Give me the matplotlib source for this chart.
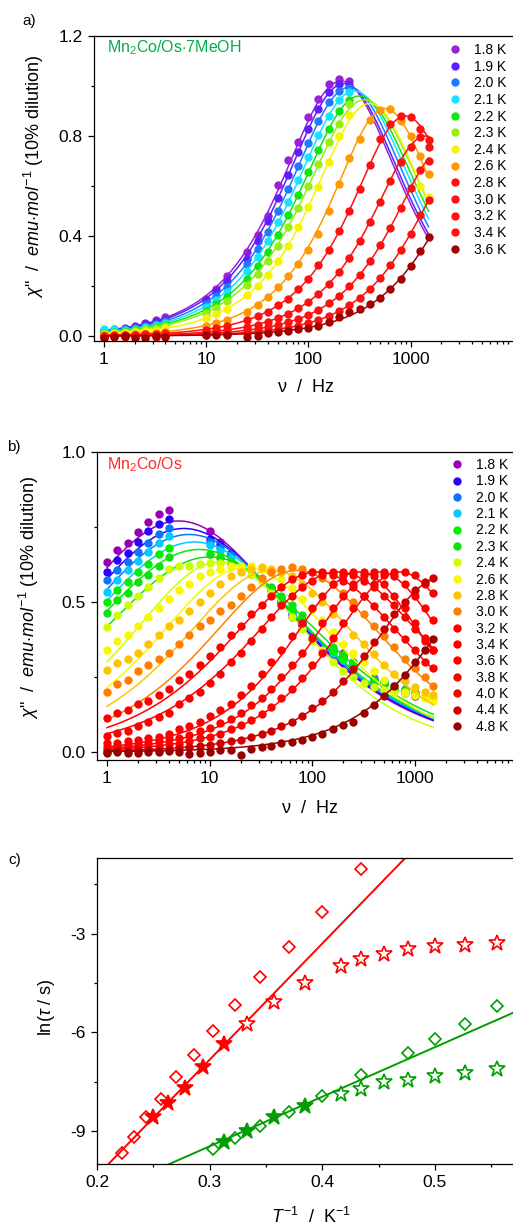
import numpy as np
import matplotlib
matplotlib.use("Agg")
import matplotlib.pyplot as plt
from matplotlib.lines import Line2D
from matplotlib.ticker import FixedLocator, MultipleLocator, NullFormatter

plt.rcParams['font.family'] = ['Liberation Sans', 'DejaVu Sans']
plt.rcParams['mathtext.fontset'] = 'custom'
plt.rcParams['mathtext.rm'] = 'Liberation Sans'
plt.rcParams['mathtext.it'] = 'Liberation Sans:italic'
plt.rcParams['axes.linewidth'] = 0.9

nan = np.nan

# ---------------- a) Mn2Co/Os.7MeOH, chi'' vs frequency ----------------
freq_a = [1, 1.25, 1.6, 2, 2.5, 3.2, 4, 10, 12.5, 16, 25, 32, 40, 50, 63, 80, 100,
          125, 160, 200, 250, 320, 400, 500, 630, 800, 1000, 1250, 1500]
labels_a = ["1.8 K", "1.9 K", "2.0 K", "2.1 K", "2.2 K", "2.3 K", "2.4 K",
            "2.6 K", "2.8 K", "3.0 K", "3.2 K", "3.4 K", "3.6 K"]
colors_a = ['#9A21D6', '#5A1EFF', '#1E7BFF', '#15E3FF', '#12E612', '#99EE11', '#F5F500',
            '#FF9900', '#FF1010', '#FF1010', '#FF1010', '#FF1010', '#A30000']

a_18 = [0.022, 0.030, 0.033, 0.041, 0.052, 0.064, 0.076, 0.150, 0.190, 0.240, 0.337, 0.404, 0.480,
        0.604, 0.704, 0.777, 0.876, 0.948, 1.008, 1.030, 1.020, nan, nan, nan, nan, nan, nan, nan, nan]
a_19 = [0.018, 0.024, 0.030, 0.036, 0.047, 0.058, 0.066, 0.140, 0.180, 0.222, 0.310, 0.380, 0.462,
        0.552, 0.645, 0.738, 0.830, 0.910, 0.975, 1.010, 1.005, nan, nan, nan, nan, nan, nan, nan, nan]
a_20 = [0.025, 0.025, 0.028, 0.034, 0.040, 0.048, 0.060, 0.128, 0.160, 0.198, 0.288, 0.350, 0.418,
        0.502, 0.588, 0.680, 0.772, 0.860, 0.935, 0.980, 0.992, nan, nan, nan, nan, nan, nan, nan, nan]
a_21 = [0.030, 0.028, 0.025, 0.030, 0.036, 0.044, 0.052, 0.115, 0.145, 0.178, 0.260, 0.318, 0.380,
        0.455, 0.535, 0.625, 0.715, 0.805, 0.882, 0.945, 0.975, nan, nan, nan, nan, nan, nan, nan, nan]
a_22 = [0.012, 0.016, 0.020, 0.025, 0.030, 0.038, 0.046, 0.102, 0.128, 0.155, 0.230, 0.280, 0.338,
        0.405, 0.484, 0.566, 0.655, 0.745, 0.830, 0.900, 0.945, nan, nan, nan, nan, nan, nan, nan, nan]
a_23 = [0.010, 0.014, 0.018, 0.022, 0.027, 0.034, 0.042, 0.092, 0.112, 0.140, 0.205, 0.250, 0.300,
        0.362, 0.435, 0.512, 0.600, 0.690, 0.775, 0.850, 0.928, nan, nan, nan, nan, nan, nan, nan, nan]
a_24 = [0.009, 0.011, 0.014, 0.017, 0.021, 0.026, 0.032, 0.073, 0.089, 0.110, 0.165, 0.202, 0.246,
        0.299, 0.361, 0.435, 0.515, 0.595, 0.698, 0.800, 0.884, nan, nan, nan, nan, nan, nan, 0.600, 0.557]
a_26 = [0.004, 0.005, 0.006, 0.008, 0.010, 0.013, 0.016, 0.040, 0.052, 0.066, 0.097, 0.125, 0.155,
        0.195, 0.240, 0.290, 0.345, 0.410, 0.500, 0.608, 0.712, 0.790, 0.864, 0.904, 0.908, 0.860, 0.800, 0.720, 0.650]
a_28 = [0.002, 0.004, 0.004, 0.006, 0.007, 0.009, 0.011, 0.026, 0.034, 0.040, 0.064, 0.080, 0.098,
        0.124, 0.150, 0.188, 0.230, 0.285, 0.345, 0.420, 0.500, 0.590, 0.685, 0.790, 0.850, 0.880, 0.875, 0.830, 0.755]
a_30 = [0.001, 0.002, 0.003, 0.003, 0.004, 0.005, 0.006, 0.016, 0.019, 0.025, 0.038, 0.046, 0.058,
        0.072, 0.090, 0.111, 0.138, 0.170, 0.210, 0.258, 0.314, 0.382, 0.456, 0.538, 0.622, 0.698, 0.758, 0.795, 0.784]
a_32 = [0.000, 0.002, 0.002, 0.002, 0.003, 0.003, 0.004, 0.010, 0.012, 0.015, 0.024, 0.029, 0.036,
        0.044, 0.055, 0.068, 0.085, 0.106, 0.131, 0.162, 0.199, 0.245, 0.299, 0.363, 0.433, 0.511, 0.591, 0.663, 0.700]
a_34 = [-0.004, 0.001, -0.003, 0.002, 0.002, -0.002, 0.003, 0.006, 0.007, 0.009, 0.014, 0.017, 0.022,
        0.027, 0.034, 0.042, 0.053, 0.065, 0.081, 0.100, 0.124, 0.153, 0.189, 0.232, 0.283, 0.343, 0.410, 0.485, 0.544]
a_36 = [-0.006, -0.004, 0.001, -0.006, -0.006, 0.001, -0.005, 0.004, 0.005, 0.006, -0.003, 0.000, 0.014,
        0.018, 0.022, 0.027, 0.034, 0.042, 0.056, 0.076, 0.096, 0.110, 0.128, 0.153, 0.189, 0.230, 0.281, 0.339, 0.396]
chi_a = [a_18, a_19, a_20, a_21, a_22, a_23, a_24, a_26, a_28, a_30, a_32, a_34, a_36]

# generalized Debye fit parameters: peak height, peak frequency (Hz), alpha
peak_a = [1.02, 1.01, 0.995, 0.98, 0.96, 0.945, 0.93, 0.91, 0.88, 0.80, 0.76, 0.72, 0.65]
fpeak_a = [209, 224, 251, 282, 316, 355, 398, 562, 891, 1413, 2239, 3548, 5012]
alpha_a = [0.12, 0.12, 0.12, 0.12, 0.12, 0.12, 0.085, 0.05, 0.05, 0.05, 0.05, 0.05, 0.05]

# ---------------- b) Mn2Co/Os, chi'' vs frequency ----------------
freq_b = [1, 1.25, 1.6, 2, 2.5, 3.2, 4, 5, 6.3, 8, 10, 12.5, 16, 20, 25, 32, 40, 50, 63, 80,
          100, 125, 160, 200, 250, 320, 400, 500, 630, 800, 1000, 1250, 1500]
labels_b = ["1.8 K", "1.9 K", "2.0 K", "2.1 K", "2.2 K", "2.3 K", "2.4 K", "2.6 K", "2.8 K",
            "3.0 K", "3.2 K", "3.4 K", "3.6 K", "3.8 K", "4.0 K", "4.4 K", "4.8 K"]
colors_b = ['#9900B3', '#2A00FF', '#0A75FF', '#00CCFF', '#00F000', '#10E010', '#CCFF00', '#F8F800',
            '#FFC400', '#FF7F00', '#FF0000', '#FF0000', '#FF0000', '#FF0000', '#FF0000', '#CC0000', '#990000']

b_18 = [0.634, 0.673, 0.698, 0.734, 0.768, 0.792, 0.807, nan, nan, nan, 0.735, 0.700, 0.662, nan, nan, nan,
        0.540, 0.496, 0.450, 0.420, nan, nan, 0.340, 0.330, 0.300, nan, 0.240, 0.225, 0.210, 0.195, 0.185, nan, nan]
b_19 = [0.600, 0.640, 0.664, 0.700, 0.735, 0.760, 0.776, nan, nan, nan, 0.710, 0.690, 0.660, nan, nan, nan,
        0.545, 0.505, 0.460, 0.425, nan, nan, 0.340, 0.320, 0.290, nan, 0.240, 0.230, 0.220, 0.200, 0.190, nan, nan]
b_20 = [0.573, 0.607, 0.634, 0.668, 0.698, 0.727, 0.748, nan, nan, nan, 0.700, 0.680, 0.655, nan, nan, nan,
        0.545, 0.505, 0.470, 0.430, nan, nan, 0.335, 0.310, 0.285, nan, 0.245, 0.235, 0.220, 0.210, 0.195, nan, nan]
b_21 = [0.534, 0.573, 0.607, 0.638, 0.665, 0.695, 0.720, nan, nan, nan, 0.690, 0.670, 0.645, nan, nan, nan,
        0.545, 0.510, 0.470, 0.435, nan, nan, 0.330, 0.305, 0.280, nan, 0.234, 0.234, 0.220, 0.205, 0.190, nan, nan]
b_22 = [0.500, 0.540, 0.568, 0.600, 0.625, 0.660, 0.680, nan, nan, nan, 0.660, 0.645, 0.630, nan, nan, nan,
        0.540, 0.510, 0.475, 0.440, nan, nan, 0.335, 0.310, 0.285, nan, 0.235, 0.225, 0.215, 0.205, 0.195, nan, nan]
b_23 = [0.464, 0.507, 0.530, 0.565, 0.590, 0.620, 0.650, nan, nan, nan, 0.660, 0.650, 0.630, nan, nan, nan,
        0.550, 0.520, 0.490, 0.455, nan, nan, 0.350, 0.325, 0.300, nan, 0.240, 0.225, 0.210, 0.200, 0.195, nan, nan]
b_24 = [0.418, 0.455, 0.490, 0.520, 0.550, 0.580, 0.610, 0.620, 0.620, 0.625, 0.630, 0.630, 0.620, 0.610, 0.590,
        0.565, 0.530, 0.490, 0.450, 0.410, 0.370, 0.340, 0.300, 0.270, 0.250, 0.230, 0.215, 0.205, 0.200, 0.195, 0.190, 0.185, 0.180]
b_26 = [0.340, 0.370, 0.390, 0.420, 0.450, 0.480, 0.510, 0.540, 0.560, 0.585, 0.600, 0.610, 0.615, 0.620, 0.620,
        0.610, 0.600, 0.575, 0.545, 0.510, 0.475, 0.440, 0.400, 0.360, 0.330, 0.300, 0.270, 0.240, 0.220, 0.200, 0.190, 0.180, 0.170]
b_28 = [0.273, 0.296, 0.310, 0.330, 0.360, 0.390, 0.420, 0.440, 0.470, 0.500, 0.530, 0.560, 0.585, 0.600, 0.610,
        0.615, 0.610, 0.600, 0.585, 0.560, 0.530, 0.500, 0.460, 0.430, 0.390, 0.360, 0.325, 0.290, 0.260, 0.235, 0.215, 0.200, 0.190]
b_30 = [0.200, 0.225, 0.240, 0.270, 0.290, 0.310, 0.330, 0.360, 0.390, 0.420, 0.440, 0.470, 0.490, 0.520, 0.550,
        0.580, 0.600, 0.610, 0.615, 0.610, 0.600, 0.580, 0.560, 0.530, 0.500, 0.460, 0.420, 0.385, 0.350, 0.310, 0.280, 0.250, 0.220]
b_32 = [0.112, 0.130, 0.140, 0.160, 0.170, 0.190, 0.210, 0.240, 0.260, 0.290, 0.320, 0.350, 0.390, 0.420, 0.460,
        0.490, 0.520, 0.550, 0.575, 0.590, 0.600, 0.600, 0.590, 0.570, 0.550, 0.520, 0.485, 0.450, 0.410, 0.375, 0.340, 0.300, 0.280]
b_34 = [0.053, 0.062, 0.070, 0.085, 0.100, 0.115, 0.130, 0.160, 0.180, 0.200, 0.230, 0.260, 0.300, 0.330, 0.370,
        0.410, 0.450, 0.490, 0.520, 0.550, 0.570, 0.590, 0.600, 0.600, 0.590, 0.570, 0.550, 0.520, 0.490, 0.450, 0.410, 0.370, 0.340]
b_36 = [0.029, 0.030, 0.035, 0.040, 0.045, 0.050, 0.060, 0.075, 0.085, 0.100, 0.120, 0.140, 0.160, 0.190, 0.220,
        0.260, 0.300, 0.340, 0.385, 0.430, 0.480, 0.520, 0.560, 0.590, 0.600, 0.600, 0.585, 0.560, 0.520, 0.480, 0.430, 0.380, 0.340]
b_38 = [0.018, 0.020, 0.022, 0.025, 0.030, 0.035, 0.045, 0.048, 0.055, 0.070, 0.080, 0.095, 0.110, 0.130, 0.155,
        0.180, 0.210, 0.250, 0.290, 0.330, 0.380, 0.430, 0.480, 0.520, 0.560, 0.590, 0.600, 0.600, 0.585, 0.560, 0.520, 0.480, 0.440]
b_40 = [0.007, 0.010, 0.008, 0.012, 0.015, 0.020, 0.025, 0.028, 0.035, 0.045, 0.050, 0.060, 0.075, 0.090, 0.105,
        0.125, 0.150, 0.180, 0.210, 0.245, 0.290, 0.330, 0.380, 0.430, 0.480, 0.520, 0.560, 0.590, 0.600, 0.600, 0.590, 0.560, 0.530]
b_44 = [0.000, 0.003, 0.002, 0.005, 0.008, 0.006, 0.010, 0.012, 0.015, 0.020, 0.022, 0.030, 0.035, 0.040, 0.050,
        0.060, 0.070, 0.085, 0.100, 0.120, 0.145, 0.170, 0.200, 0.235, 0.275, 0.320, 0.365, 0.410, 0.460, 0.500, 0.540, 0.565, 0.580]
b_48 = [-0.005, 0.000, -0.005, -0.003, 0.000, 0.000, 0.002, 0.000, -0.008, -0.005, 0.000, 0.005, 0.005, -0.010, 0.010,
        0.015, 0.020, 0.030, 0.034, 0.040, 0.051, 0.060, 0.075, 0.090, 0.100, 0.130, 0.155, 0.185, 0.220, 0.255, 0.300, 0.340, 0.375]
chi_b = [b_18, b_19, b_20, b_21, b_22, b_23, b_24, b_26, b_28, b_30, b_32, b_34, b_36, b_38, b_40, b_44, b_48]

peak_b = [0.77, 0.745, 0.725, 0.70, 0.675, 0.65, 0.634, 0.615, 0.605, 0.605, 0.60, 0.60, 0.60, 0.60, 0.60, 0.58, 0.55]
fpeak_b = [5.0, 5.6, 6.3, 7.1, 7.9, 10.0, 12.6, 22.4, 39.8, 70.8, 112, 178, 282, 447, 708, 1778, 5623]
alpha_b = [0.45, 0.45, 0.45, 0.45, 0.45, 0.45, 0.35, 0.35, 0.35, 0.35, 0.35, 0.35, 0.2, 0.2, 0.2, 0.2, 0.2]

# ---------------- c) Arrhenius plot ----------------
T_red_dia = [4.5, 4.3, 4.1, 3.9, 3.7, 3.5, 3.3, 3.1, 2.9, 2.7, 2.5, 2.3]
ln_red_dia = [-9.67, -9.19, -8.58, -8.01, -7.37, -6.68, -5.96, -5.16, -4.32, -3.40, -2.35, -1.04]
T_red_star_fill = [4.0, 3.8, 3.6, 3.4, 3.2]
ln_red_star_fill = [-8.58, -8.15, -7.68, -7.05, -6.36]
T_red_star_open = [3.0, 2.8, 2.6, 2.4, 2.3, 2.2, 2.1, 2.0, 1.9, 1.8]
ln_red_star_open = [-5.73, -5.07, -4.49, -3.99, -3.77, -3.61, -3.48, -3.38, -3.33, -3.28]
T_grn_dia = [3.3, 3.1, 2.9, 2.7, 2.5, 2.3, 2.1, 2.0, 1.9, 1.8]
ln_grn_dia = [-9.55, -9.22, -8.86, -8.43, -7.93, -7.30, -6.64, -6.21, -5.75, -5.20]
T_grn_star_fill = [3.2, 3.0, 2.8, 2.6]
ln_grn_star_fill = [-9.32, -8.99, -8.58, -8.23]
T_grn_star_open = [2.4, 2.3, 2.2, 2.1, 2.0, 1.9, 1.8]
ln_grn_star_open = [-7.88, -7.73, -7.52, -7.45, -7.34, -7.22, -7.12]

# Arrhenius fits: ln(tau) = ln(tau0) + Ueff/(k T)
ln_tau0 = [-17.42, -13.98]
ueff_k = [35.3, 15.06]

RED = '#FF0000'
GREEN = '#009E00'


def cole_cole(f, peak, fp, alpha):
    s = np.sin(alpha * np.pi / 2)
    x = np.log(np.asarray(f) / fp)
    return peak * (1 + s) / (np.cosh((1 - alpha) * x) + s)


def style_axes(ax):
    ax.tick_params(which='both', direction='out', top=False, right=False,
                   labelsize=12.5, width=0.9, pad=3.5)
    ax.tick_params(which='major', length=4.5)
    ax.tick_params(which='minor', length=2.5)


W, H = 513, 1226
fig = plt.figure(figsize=(W / 100, H / 100), dpi=100)


def px_axes(left, top, right, bottom):
    return fig.add_axes([left / W, 1 - bottom / H, (right - left) / W, (bottom - top) / H])


def spectrum_panel(ax, freq, chis, colors, peaks, fpeaks, alphas, ylim, yticks, yminor):
    fgrid = np.logspace(0, np.log10(1500), 300)
    for pts, c, pk, fp, al in zip(chis, colors, peaks, fpeaks, alphas):
        ax.plot(freq, pts, 'o', color=c, ms=6.0, mew=0)
        ax.plot(fgrid, cole_cole(fgrid, pk, fp, al), '-', color=c, lw=1.1)
    ax.set_xscale('log')
    ax.set_xlim(0.8, 11500)
    ax.set_ylim(*ylim)
    ax.xaxis.set_major_locator(FixedLocator([1, 10, 100, 1000]))
    ax.xaxis.set_major_formatter(matplotlib.ticker.FixedFormatter(['1', '10', '100', '1000']))
    minors = [m * 10 ** e for e in range(0, 4) for m in range(2, 10)]
    ax.xaxis.set_minor_locator(FixedLocator(minors))
    ax.xaxis.set_minor_formatter(NullFormatter())
    ax.set_yticks(yticks)
    ax.yaxis.set_minor_locator(FixedLocator(yminor))
    style_axes(ax)
    return [Line2D([], [], marker='o', ls='none', color=c, ms=6.0, mew=0) for c in colors]


CHI_LABEL = r'$\chi$"  /  $emu{\cdot}mol^{-1}$ (10% dilution)'

# panel a
ax_a = px_axes(94, 36, 519, 341)
h_a = spectrum_panel(ax_a, freq_a, chi_a, colors_a, peak_a, fpeak_a, alpha_a,
                     (-0.02, 1.2), [0.0, 0.4, 0.8, 1.2], [0.2, 0.6, 1.0])
ax_a.set_yticklabels(['0.0', '0.4', '0.8', '1.2'])
ax_a.legend(h_a, labels_a, loc='upper left', bbox_to_anchor=(449 / W, 1 - 43 / H),
            bbox_transform=fig.transFigure, frameon=False, fontsize=10, handlelength=0.9,
            handletextpad=0.9, labelspacing=0.19, borderpad=0, borderaxespad=0)
ax_a.text(0.031, 0.961, r"Mn$_2$Co/Os$\cdot$7MeOH", transform=ax_a.transAxes, color='#00AE50',
          fontsize=11.5, va='center', ha='left')
ax_a.set_ylabel(CHI_LABEL, fontsize=13)
ax_a.yaxis.set_label_coords(-0.112, 0.54)
ax_a.set_xlabel("ν  /  Hz", fontsize=13)
ax_a.xaxis.set_label_coords(0.5, -0.125)

# panel b
ax_b = px_axes(97, 452, 524, 760)
h_b = spectrum_panel(ax_b, freq_b, chi_b, colors_b, peak_b, fpeak_b, alpha_b,
                     (-0.027, 1.0), [0.0, 0.5, 1.0], [0.25, 0.75])
ax_b.set_yticklabels(['0.0', '0.5', '1.0'])
ax_b.legend(h_b, labels_b, loc='upper left', bbox_to_anchor=(451 / W, 1 - 458 / H),
            bbox_transform=fig.transFigure, frameon=False, fontsize=10, handlelength=0.9,
            handletextpad=0.9, labelspacing=0.17, borderpad=0, borderaxespad=0)
ax_b.text(0.023, 0.958, r"Mn$_2$Co/Os", transform=ax_b.transAxes, color='#FF2A2A',
          fontsize=11.5, va='center', ha='left')
ax_b.set_ylabel(CHI_LABEL, fontsize=13)
ax_b.yaxis.set_label_coords(-0.13, 0.53)
ax_b.set_xlabel("ν  /  Hz", fontsize=13)
ax_b.xaxis.set_label_coords(0.5, -0.13)

# panel c
ax_c = px_axes(97, 858, 525, 1164)
inv = lambda T: 1.0 / np.asarray(T)
xs = np.linspace(0.2, 0.6, 50)
for lt0, u, c in zip(ln_tau0, ueff_k, [RED, GREEN]):
    ax_c.plot(xs, lt0 + u * xs, '-', color=c, lw=1.4)
dia = dict(marker='D', ls='none', ms=6.5, mfc='none', mew=1.2)
star_open = dict(marker='*', ls='none', ms=12, mfc='white', mew=1.2)
star_fill = dict(marker='*', ls='none', ms=12, mew=1.2)
ax_c.plot(inv(T_red_dia), ln_red_dia, color=RED, mec=RED, **dia)
ax_c.plot(inv(T_grn_dia), ln_grn_dia, color=GREEN, mec=GREEN, **dia)
ax_c.plot(inv(T_red_star_open), ln_red_star_open, color=RED, mec=RED, **star_open)
ax_c.plot(inv(T_grn_star_open), ln_grn_star_open, color=GREEN, mec=GREEN, **star_open)
ax_c.plot(inv(T_red_star_fill), ln_red_star_fill, color=RED, mec=RED, **star_fill)
ax_c.plot(inv(T_grn_star_fill), ln_grn_star_fill, color=GREEN, mec=GREEN, **star_fill)
ax_c.set_xlim(0.2, 0.58)
ax_c.set_ylim(-10, -0.7)
ax_c.set_xticks([0.2, 0.3, 0.4, 0.5])
ax_c.set_xticklabels(['0.2', '0.3', '0.4', '0.5'])
ax_c.xaxis.set_minor_locator(MultipleLocator(0.05))
ax_c.set_yticks([-9, -6, -3])
ax_c.set_yticklabels(['-9', '-6', '-3'])
ax_c.yaxis.set_minor_locator(FixedLocator([-7.5, -4.5, -1.5]))
style_axes(ax_c)
ax_c.set_ylabel(r"ln($\tau$ / s)", fontsize=13)
ax_c.yaxis.set_label_coords(-0.094, 0.513)
ax_c.set_xlabel(r"$T^{-1}$  /  K$^{-1}$", fontsize=13)
ax_c.xaxis.set_label_coords(0.5, -0.14)

# panel letters
for lab, (x, y) in zip(["a)", "b)", "c)"], [(22, 21), (7, 447), (8, 860)]):
    fig.text(x / W, 1 - y / H, lab, fontsize=11, ha='left', va='center')

fig.savefig("out.png", dpi=100)
